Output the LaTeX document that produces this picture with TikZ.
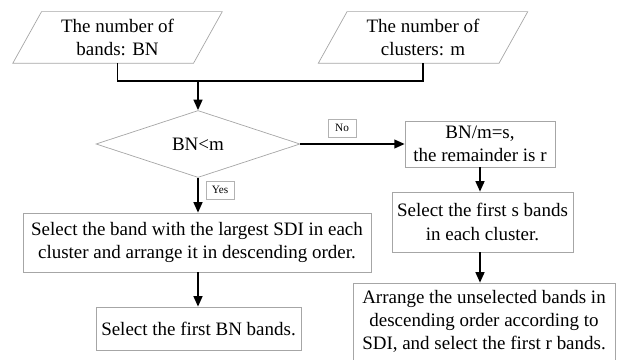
\documentclass[tikz,border=0pt]{standalone}
\usepackage{fontspec}
\setmainfont{Liberation Serif}
\usetikzlibrary{shapes.geometric,arrows.meta}

\begin{document}
\begin{tikzpicture}[x = 0.25mm, y = -0.25mm,
  box/.style = {draw = gray!70, line width = 0.5pt, shape = rectangle, align = center, inner sep = 2pt, font = \fontsize{13.5}{16.5}\selectfont},
  inbox/.style = {box, draw = none, minimum width = 45mm, minimum height = 12.75mm},
  slant/.style = {draw = gray!70, line width = 0.5pt},
  testbox/.style = {box, diamond, aspect = 3},
  tag/.style = {draw = gray!60, line width = 0.4pt, inner sep = 2pt, minimum width = 7mm, minimum height = 4.4mm, font = \fontsize{8}{9}\selectfont},
  conn/.style = {line width = 1.2pt, black},
  arr/.style = {conn, -{Triangle[length = 2.6mm, width = 2.2mm]}}]
\useasboundingbox (0,0) rectangle (618,360);
\node[inbox] (bands) at (117.5,37.5) {The number of\\bands: BN};
\node[inbox] (clusters) at (423,37.5) {The number of\\clusters: m};
\draw[slant] ([xshift = -3.6mm]bands.south west) -- ([xshift = -3.6mm]bands.south east) -- ([xshift = 3.6mm]bands.north east) -- ([xshift = 3.6mm]bands.north west) -- cycle;
\draw[slant] ([xshift = -3.6mm]clusters.south west) -- ([xshift = -3.6mm]clusters.south east) -- ([xshift = 3.6mm]clusters.north east) -- ([xshift = 3.6mm]clusters.north west) -- cycle;
\coordinate (join) at (198,81);
\node[testbox, minimum width = 51mm, minimum height = 16.75mm] (test) at (198,144) {BN<m};
\node[box, minimum width = 37.5mm, minimum height = 11.5mm] (split) at (480,144) {BN/m=s,\\the remainder is r};
\node[box, minimum width = 45.25mm, minimum height = 15mm] (sbands) at (482.5,222) {Select the first s bands\\in each cluster.};
\node[box, minimum width = 65.5mm, minimum height = 19.25mm] (arrange) at (484,321.5) {Arrange the unselected bands in\\descending order according to\\SDI, and select the first r bands.};
\node[box, minimum width = 87mm, minimum height = 14.75mm] (maxsdi) at (197,242.5) {Select the band with the largest SDI in each\\cluster and arrange it in descending order.};
\node[box, minimum width = 51.25mm, minimum height = 10.75mm] (firstbn) at (198.5,328.5) {Select the first BN bands.};
\node[tag] (no) at (342,128) {No};
\node[tag] (yes) at (220,190) {Yes};
\draw[conn] (bands.south) |- (join) -| (clusters.south);
\draw[arr] (join) -- (test.north);
\draw[arr] (test.east) -- (test.east -| split.west);
\draw[arr] (test.south) -- (test.south |- maxsdi.north);
\draw[arr] (maxsdi.south -| test.south) -- (test.south |- firstbn.north);
\draw[arr] (split.south) -- (split.south |- sbands.north);
\draw[arr] (sbands.south -| split.south) -- (split.south |- arrange.north);
\end{tikzpicture}
\end{document}
